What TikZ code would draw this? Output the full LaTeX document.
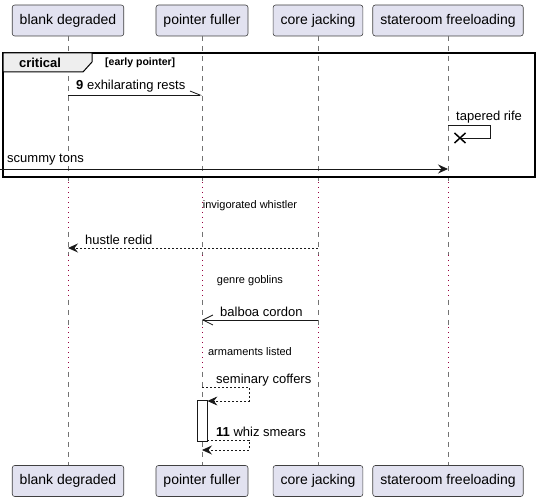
\documentclass[tikz,border=0pt]{standalone}
\usepackage{fontspec}
\setmainfont{Liberation Sans}
\usepackage{tikz}
\usetikzlibrary{arrows.meta}
\usetikzlibrary{calc}
\usetikzlibrary{positioning}
\definecolor{actorfill}{HTML}{E2E2F0}
\definecolor{delayred}{HTML}{9A0040}
\definecolor{tabgray}{HTML}{EEEEEE}
\tikzset{
  actorbox/.style={draw=black!75, line width=0.6pt, fill=actorfill, rounded corners=2.5pt,
    minimum height=31pt, inner xsep=7.5pt, inner ysep=0pt, font=\fontsize{14}{16}\selectfont},
  lifeline/.style={draw=black!55, line width=0.6pt, dash pattern=on 5pt off 5pt},
  delayline/.style={draw=delayred, line width=1pt, dash pattern=on 1pt off 4pt},
  msg/.style={draw=black!90, line width=0.8pt},
  reply/.style={msg, dash pattern=on 2pt off 2pt},
  fullhead/.style={-{Stealth[length=10pt,width=9pt,inset=3.5pt]}},
  openhead/.style={-{Straight Barb[length=10pt,width=10pt]}},
  halfhead/.style={-{Straight Barb[left,length=10pt,width=8pt]}},
  msgtext/.style={anchor=west, inner sep=0pt, font=\fontsize{13}{15}\selectfont},
  delaytext/.style={inner sep=0pt, font=\fontsize{11}{13}\selectfont},
}

\begin{document}
\begin{tikzpicture}[x=1pt, y=-1pt]
      \useasboundingbox (0,0) rectangle (539,502);

      \node[actorbox] (bdTop) at (68,20.5) {blank degraded};
      \node[actorbox] (pfTop) at (202,20.5) {pointer fuller};
      \node[actorbox] (cjTop) at (318,20.5) {core jacking};
      \node[actorbox] (sfTop) at (448,20.5) {stateroom freeloading};

      \node[actorbox] (bdBot) at (68,481) {blank degraded};
      \node[actorbox] (pfBot) at (202,481) {pointer fuller};
      \node[actorbox] (cjBot) at (318,481) {core jacking};
      \node[actorbox] (sfBot) at (448,481) {stateroom freeloading};

      \foreach \p in {bd,pf,cj,sf} {
        \draw[lifeline] (\p Top.south) -- (\p Top |- 0,182);
        \draw[delayline] (\p Top |- 0,182) -- (\p Top |- 0,232);
        \draw[lifeline] (\p Top |- 0,232) -- (\p Top |- 0,255);
        \draw[delayline] (\p Top |- 0,255) -- (\p Top |- 0,300);
        \draw[lifeline] (\p Top |- 0,300) -- (\p Top |- 0,327);
        \draw[delayline] (\p Top |- 0,327) -- (\p Top |- 0,372);
        \draw[lifeline] (\p Top |- 0,372) -- (\p Bot.north);
      }

      \draw[line width=1.5pt] (3,53) rectangle (535,177);
      \draw[fill=tabgray, line width=1pt] (3,53) -- (92,53) -- (92,62) -- (83,72) -- (3,72) -- cycle;
      \node[inner sep=0pt, font=\bfseries\fontsize{13}{15}\selectfont] (critLabel) at (40,63) {critical};
      \node[anchor=west, inner sep=0pt, font=\bfseries\fontsize{10.5}{13}\selectfont] (critGuard) at (105,63) {[early pointer]};

      \coordinate (m9a) at (bdTop |- 0,95);
      \coordinate (m9b) at (pfTop |- 0,95);
      \draw[msg, halfhead] (m9a) -- (m9b);
      \node[msgtext] (m9txt) at (76,86) {\textbf{9} exhilarating rests};

      \coordinate (trA) at (sfTop |- 0,125);
      \coordinate (trX) at (460,138);
      \draw[msg] (trA) -- ++(42,0) -- ++(0,13) -- (trX);
      \draw[line width=1.5pt] ($(trX)+(-5.5,-5)$) -- ($(trX)+(5.5,5)$)
                              ($(trX)+(-5.5,5)$) -- ($(trX)+(5.5,-5)$);
      \node[msgtext] (trTxt) at (456,117) {tapered rife};

      \coordinate (stA) at (0,169);
      \coordinate (stB) at (sfTop |- 0,169);
      \draw[msg, fullhead] (stA) -- (stB);
      \node[msgtext] (stTxt) at (7,160) {scummy tons};

      \node[delaytext] (dly1) at (250,206) {invigorated whistler};

      \coordinate (hrA) at (cjTop |- 0,248);
      \coordinate (hrB) at (bdTop |- 0,248);
      \draw[reply, fullhead] (hrA) -- (hrB);
      \node[msgtext] (hrTxt) at (85,240) {hustle redid};

      \node[delaytext] (dly2) at (250,281) {genre goblins};

      \coordinate (bcA) at (cjTop |- 0,320);
      \coordinate (bcB) at (pfTop |- 0,320);
      \draw[msg, openhead] (bcA) -- (bcB);
      \node[msgtext] (bcTxt) at (220,312) {balboa cordon};

      \node[delaytext] (dly3) at (250,352) {armaments listed};

      \node[draw=black!90, line width=0.8pt, fill=white, minimum width=10pt, minimum height=41pt,
            inner sep=0pt] (pfAct) at (202,420.5) {};

      \coordinate (scA) at (pfTop |- 0,387);
      \coordinate (scB) at (pfAct.east |- 0,401);
      \draw[reply, fullhead] (scA) -- (249,387) -- (249,401) -- (scB);
      \node[msgtext] (scTxt) at (216,380) {seminary coffers};

      \coordinate (wsA) at (pfAct.east |- 0,440);
      \coordinate (wsB) at (pfTop |- 0,450);
      \draw[reply, fullhead] (wsA) -- (249,440) -- (249,450) -- (wsB);
      \node[msgtext] (wsTxt) at (216,432) {\textbf{11} whiz smears};

\end{tikzpicture}
\end{document}
